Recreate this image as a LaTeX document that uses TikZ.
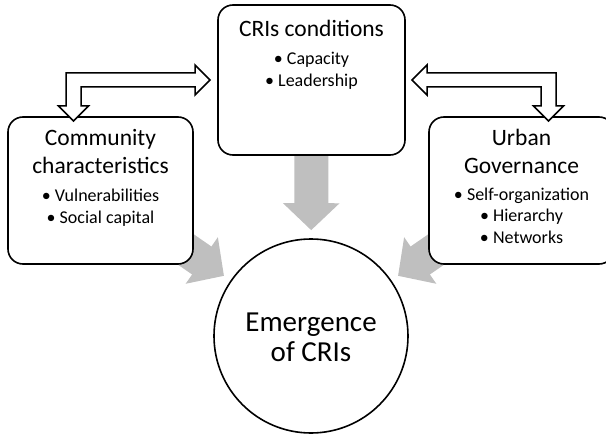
\documentclass[tikz,border=0pt]{standalone}
\usepackage{fontspec}
\setmainfont{Carlito}
\usepackage{tikz}
\usetikzlibrary{shapes,positioning,calc}
\usetikzlibrary{arrows.meta}
\pgfdeclarelayer{background}
\pgfsetlayers{background,main}
\tikzstyle{blocco} = [rectangle, rounded corners=15pt, minimum width=185pt, minimum height=147pt, draw=black, line width=1.6pt, fill=white]
\tikzstyle{titolo} = [font=\fontsize{23.5}{28}\selectfont, align=center, inner sep=0pt, anchor=base]
\tikzstyle{voci} = [font=\fontsize{18}{21.5}\selectfont, align=center, inner sep=0pt, anchor=base]
\tikzstyle{flusso} = [line width=34pt, draw=black!25, -{Triangle[width=55pt,length=27pt]}, shorten >=8pt]
\tikzstyle{cava} = [draw=black, fill=white, line width=1.5pt, line join=miter]
\tikzset{piega/.pic={
	\draw[cava] (73.5,121) -- (88.5,106) -- (81,106) -- (81,87) -- (195,87) -- (195,95) -- (210,80)
	-- (195,65) -- (195,73) -- (66,73) -- (66,106) -- (58.5,106) -- cycle;
}}

\begin{document}
\begin{tikzpicture}[x=1pt,y=-1pt]
	\useasboundingbox (0,0) rectangle (606,436);
	\clip (0,0) rectangle (606,436);
	\node (cond) at (311.5,80) [blocco, minimum width=187pt, minimum height=150pt] {};
	\node (comm) at (100.5,190.5) [blocco] {};
	\node (gov) at (521.5,190.5) [blocco] {};
	\node (em) at (311,336) [circle, draw=black, line width=1.6pt, fill=white, minimum size=194pt, inner sep=0pt] {};

	\node (t0) at (311.5,37) [titolo] {CRIs conditions};
	\node (v0) at (311.5,86.5) [voci] {\textbullet\ Capacity\\\textbullet\ Leadership};
	\node (t1) at (100.5,173) [titolo] {Community\\characteristics};
	\node (v1) at (100.5,223) [voci] {\textbullet\ Vulnerabilities\\\textbullet\ Social capital};
	\node (t2) at (521.5,173) [titolo] {Urban\\Governance};
	\node (v2) at (521.5,243) [voci] {\textbullet\ Self-organization\\\textbullet\ Hierarchy\\\textbullet\ Networks};
	\node (t3) at (311,361) [font=\fontsize{29}{30}\selectfont, align=center, inner sep=0pt, anchor=base] {Emergence\\of CRIs};

	\begin{pgfonlayer}{background}
		\draw[flusso] (cond.center) -- (em);
		\draw[flusso] (comm.center) -- (em);
		\draw[flusso] (gov.center) -- (em);
	\end{pgfonlayer}

	\pic at (0,0) {piega};
	\pic[xscale=-1] at (622,0) {piega};
\end{tikzpicture}
\end{document}
